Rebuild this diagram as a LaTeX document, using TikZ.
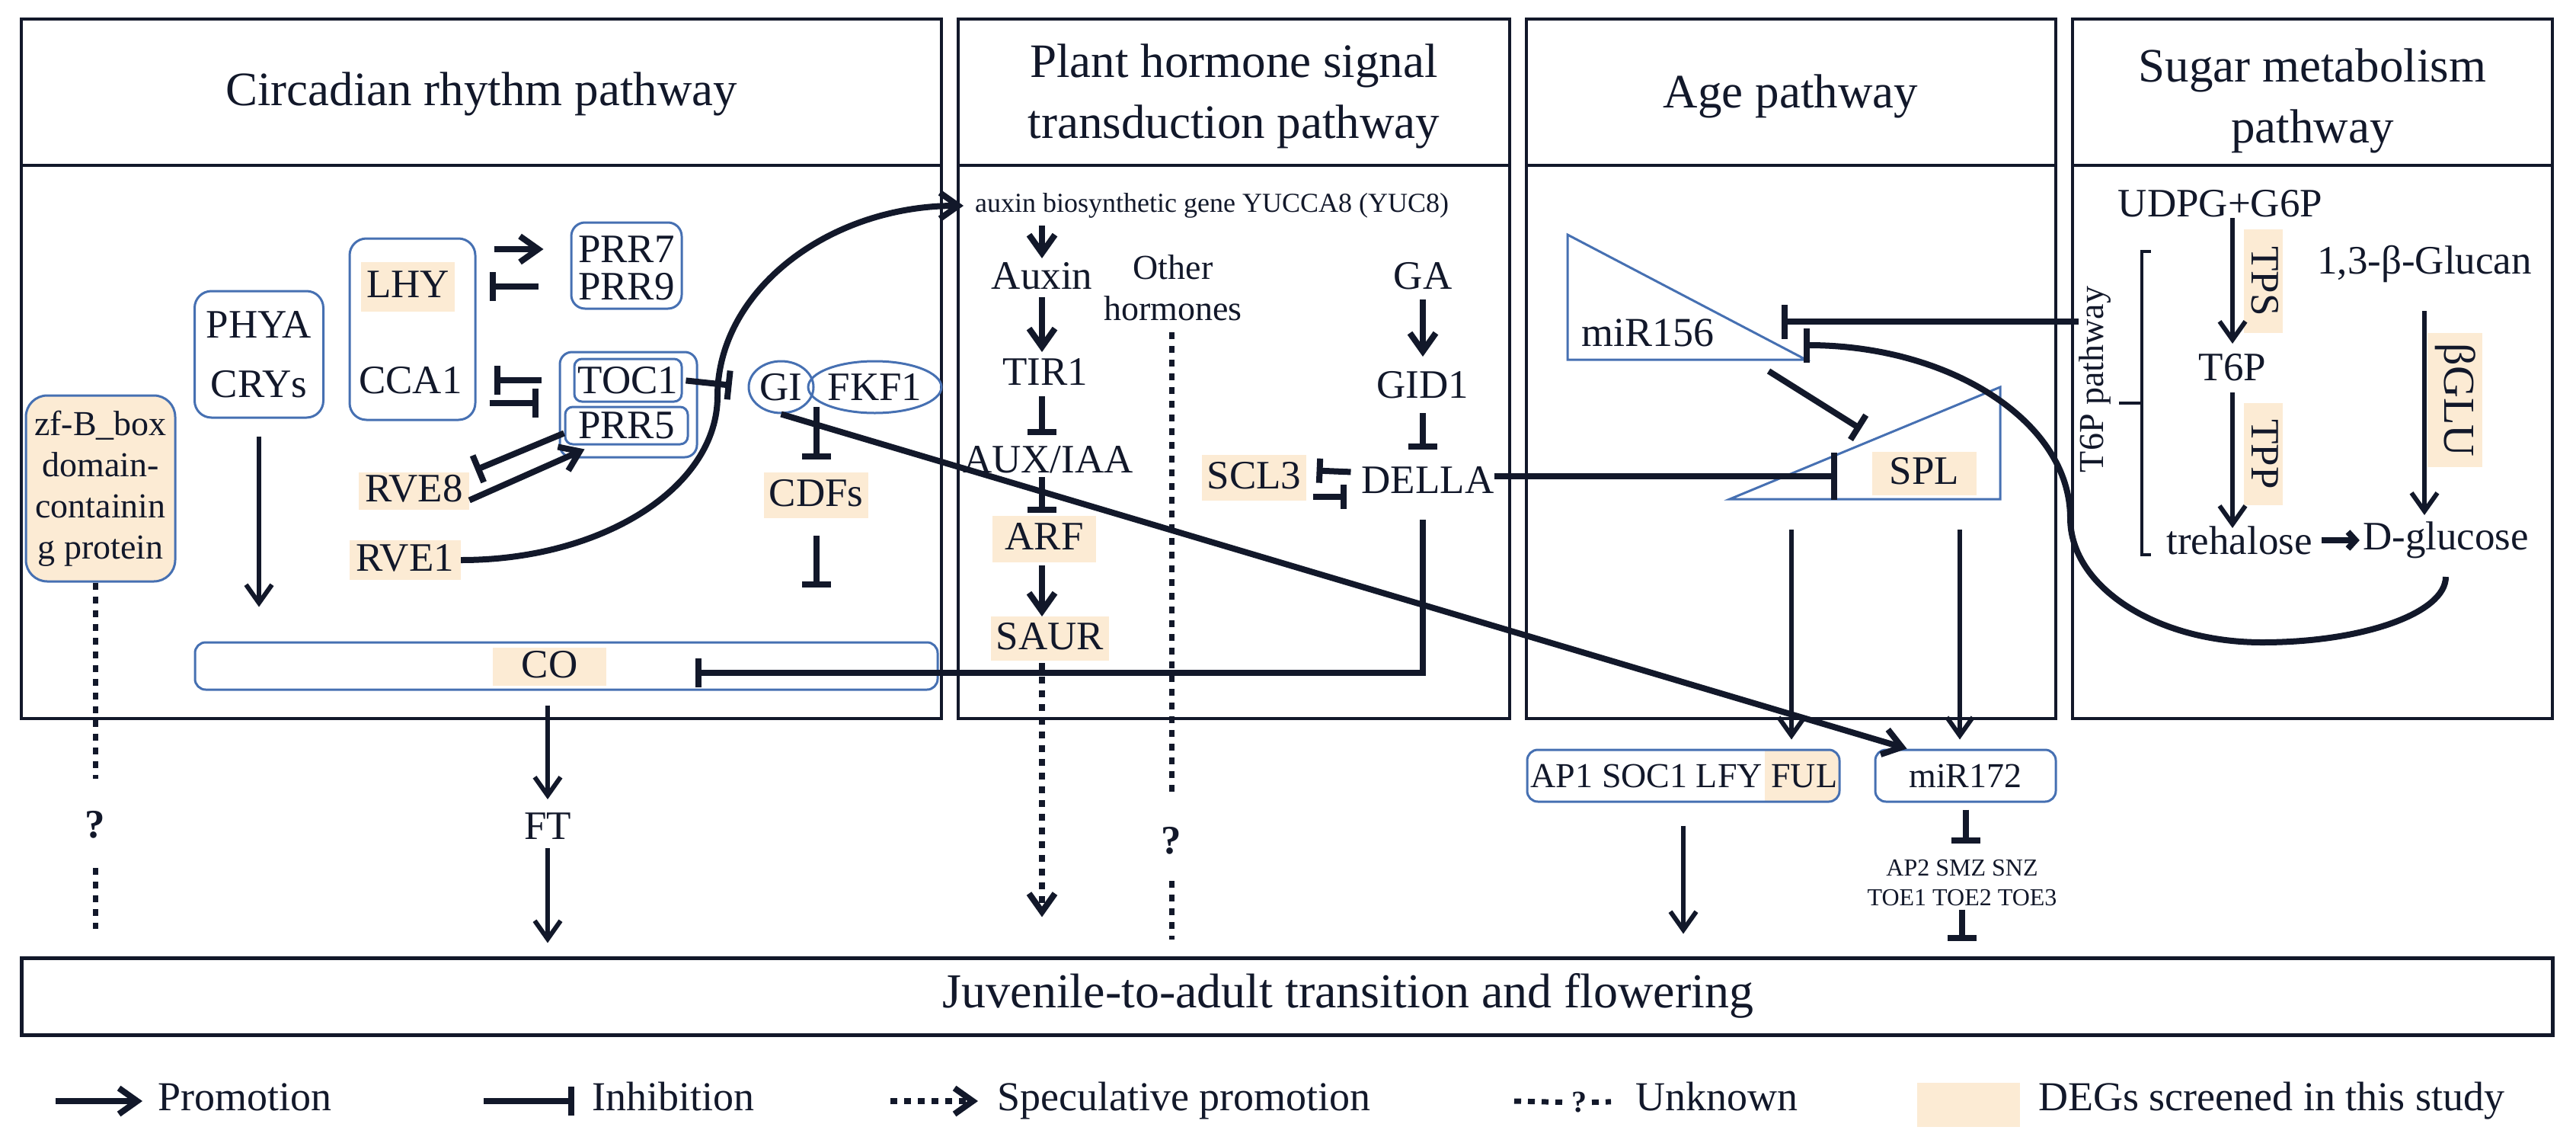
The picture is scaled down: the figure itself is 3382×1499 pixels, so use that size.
\documentclass[tikz,border=0pt]{standalone}
\usepackage{fontspec}
\setmainfont{Liberation Serif}
\usetikzlibrary{arrows.meta,
	shapes.geometric,
	positioning}
\definecolor{inkcol}{RGB}{18,24,42}
\definecolor{genecol}{RGB}{70,112,178}
\definecolor{degcol}{RGB}{252,235,212}
\newcommand\ttlfont{\fontsize{63pt}{80pt}\selectfont}
\newcommand\lblfont{\fontsize{53pt}{60pt}\selectfont}
\newcommand\midfont{\fontsize{46pt}{54pt}\selectfont}
\newcommand\smlfont{\fontsize{36pt}{42pt}\selectfont}
\newcommand\tnyfont{\fontsize{32pt}{39pt}\selectfont}

\begin{document}
\begin{tikzpicture}[x=1pt, y=-1pt,
	every node/.style={inner sep=0pt, text=inkcol, font=\lblfont},
	panel/.style={draw=inkcol, line width=4.5pt},
	gene/.style={draw=genecol, line width=3pt, rounded corners=22pt},
	deg/.style={fill=degcol, inner xsep=7pt, inner ysep=4pt, text height=34pt, text depth=6pt},
	prom/.style={draw=inkcol, line width=8pt, -{Straight Barb[length=24pt, width=34pt]}},
	thinarrow/.style={line width=6pt},
	smallprom/.style={draw=inkcol, line width=8pt, -{Straight Barb[length=10pt, width=22pt]}},
	inh/.style={draw=inkcol, line width=8pt, -{Bar[width=38pt]}},
	spec/.style={prom, dash pattern=on 9pt off 9pt},
	unk/.style={draw=inkcol, line width=7pt, dash pattern=on 9pt off 9pt},
	tri/.style={draw=genecol, line width=3pt},
	brk/.style={draw=inkcol, line width=3.5pt},
	legend/.style={anchor=west, font=\fontsize{54pt}{60pt}\selectfont, text height=36pt, text depth=11pt}]
	\useasboundingbox (0,0) rectangle (3382,1499);

	% panels
	\draw[panel] (28,25) rectangle (1236,943);
	\draw[panel] (28,217) -- (1236,217);
	\draw[panel] (1258,25) rectangle (1982,943);
	\draw[panel] (1258,217) -- (1982,217);
	\draw[panel] (2004,25) rectangle (2699,943);
	\draw[panel] (2004,217) -- (2699,217);
	\draw[panel] (2721,25) rectangle (3351,943);
	\draw[panel] (2721,217) -- (3351,217);
	\node[font=\ttlfont] (ttlcirc) at (632,123) {Circadian rhythm pathway};
	\node[font=\ttlfont, align=center] (ttlhorm) at (1620,126) {Plant hormone signal\\transduction pathway};
	\node[font=\ttlfont] (ttlage) at (2351,126) {Age pathway};
	\node[font=\ttlfont, align=center] (ttlsug) at (3036,132) {Sugar metabolism\\pathway};

	\node[draw=inkcol, line width=5pt, minimum width=3323pt, minimum height=101pt] (flower) at (1689.5,1307.5) {};
	\node[font=\fontsize{64pt}{70pt}\selectfont] (flowtxt) at (1770,1307) {Juvenile-to-adult transition and flowering};

	% circadian rhythm
	\node[gene, minimum width=169pt, minimum height=166pt, align=center, font=\fontsize{53pt}{78pt}\selectfont] (phya) at (340,465) {PHYA\\CRYs};
	\node[gene, minimum width=165pt, minimum height=238pt] (lhybox) at (541.5,432) {};
	\node[deg, minimum width=115pt, minimum height=65pt] (lhy) at (535.5,376.5) {LHY};
	\node (cca1) at (539,499) {CCA1};
	\node[gene, rounded corners=18pt, minimum width=145pt, minimum height=113pt] (prrbox) at (822.5,348.5) {};
	\node (prr7) at (822.5,327) {PRR7};
	\node (prr9) at (822.5,376) {PRR9};
	\node[gene, rounded corners=16pt, minimum width=180pt, minimum height=138pt] (tocbox) at (825,531) {};
	\node[gene, rounded corners=10pt, minimum width=141pt, minimum height=56pt] (toc1) at (824.5,499) {TOC1};
	\node[gene, rounded corners=10pt, minimum width=161pt, minimum height=49pt] (prr5) at (822.5,558.5) {PRR5};
	\node[gene, ellipse, minimum width=85pt, minimum height=68pt] (gi) at (1025.5,508) {GI};
	\node[gene, ellipse, minimum width=161pt, minimum height=68pt] (fkf1) at (1148.5,508) {FKF1};
	\node[deg, minimum width=145pt, minimum height=49pt] (rve8) at (543.5,644.5) {RVE8};
	\node[deg, minimum width=146pt, minimum height=52pt] (rve1) at (532,735) {RVE1};
	\node[deg, minimum width=137pt, minimum height=60pt] (cdfs) at (1071.5,650) {CDFs};
	\node[gene, fill=degcol, rounded corners=28pt, minimum width=196pt, minimum height=244pt, align=center, font=\fontsize{46pt}{54pt}\selectfont] (zfbox) at (132,641) {zf-B\_box\\domain-\\containin\\g protein};
	\node[gene, rounded corners=14pt, minimum width=975pt, minimum height=62pt] (cobox) at (743.5,874) {};
	\node[deg, minimum width=149pt, minimum height=50pt] (co) at (721.5,875) {CO};
	\node (ft) at (719,1084) {FT};
	\node[font=\bfseries\lblfont] (zfq) at (125,1082) {?};
	\coordinate (cobar) at (913,883);

	\draw[prom, shorten <=23pt, shorten >=35pt] (lhybox.east |- prr7) -- (prrbox.west |- prr7);
	\draw[inh, shorten <=42pt, shorten >=17pt] (prrbox.west |- prr9) -- (lhybox.east |- prr9);
	\draw[inh, shorten <=23pt, shorten >=23pt] (tocbox.west |- toc1) -- (lhybox.east |- toc1);
	\draw[inh, shorten <=17pt, shorten >=27pt] (lhybox.east |- toc1.south) -- (tocbox.west |- toc1.south);
	\draw[inh, shorten <=4pt, shorten >=21pt] (toc1.east) -- (gi.west);
	\draw[inh] ([yshift=-10pt]prr5.west) -- ([xshift=8pt,yshift=3pt]rve8.north east);
	\draw[prom] ([yshift=-12pt]rve8.east) -- ([xshift=27pt,yshift=-5pt]prr5.south west);
	\draw[inh, shorten <=26pt, shorten >=17pt] (cdfs.north |- gi.east) -- (cdfs.north);
	\draw[inh, shorten <=23pt, shorten >=71pt] (cdfs.south) -- (cdfs.south |- cobox.north);
	\draw[prom, thinarrow, shorten <=23pt, shorten >=45pt] (phya.south) -- (phya.south |- cobox.north);
	\draw[unk, shorten >=60pt] (zfbox.south -| zfq) -- (zfq.center);
	\draw[unk, shorten <=57pt, shorten >=36pt] (zfq.center) -- (zfq |- flower.north);
	\draw[prom, thinarrow, shorten <=19pt, shorten >=35pt] (ft |- cobox.south) -- (ft.center);
	\draw[prom, thinarrow, shorten <=29pt, shorten >=17pt] (ft.center) -- (ft |- flower.north);

	% plant hormone
	\node[font=\smlfont, anchor=west] (aux8) at (1280,270) {auxin biosynthetic gene YUCCA8 (YUC8)};
	\node (auxin) at (1368,362) {Auxin};
	\node (tir1) at (1372,488) {TIR1};
	\node (auxiaa) at (1376,603) {AUX/IAA};
	\node[deg, minimum width=136pt, minimum height=61pt] (arf) at (1371,707.5) {ARF};
	\node[deg, minimum width=151pt, minimum height=58pt] (saur) at (1378.5,838) {SAUR};
	\node[font=\midfont, align=center] (othhorm) at (1540,378) {Other\\hormones};
	\node[font=\bfseries\lblfont] (othq) at (1538,1103) {?};
	\node (ga) at (1868,362) {GA};
	\node (gid1) at (1868,505) {GID1};
	\node (della) at (1874.5,630) {DELLA};
	\node[deg, minimum width=137pt, minimum height=60pt] (scl3) at (1646.5,627) {SCL3};

	\draw[prom, shorten >=15pt] (rve1.east) .. controls (792,735) and (942,639) .. (942,520)
		.. controls (942,382) and (1087,270) .. (aux8.west);
	\draw[prom, shorten <=26pt, shorten >=23pt] (aux8 -| auxin) -- (auxin.center);
	\draw[prom, shorten <=28pt, shorten >=26pt] (auxin.center) -- (auxin |- tir1);
	\draw[inh, shorten <=32pt, shorten >=32pt] (auxin |- tir1) -- (auxin |- auxiaa);
	\draw[inh, shorten <=23pt, shorten >=35pt] (auxin |- auxiaa) -- (auxin |- arf);
	\draw[prom, shorten <=34pt, shorten >=29pt] (auxin |- arf) -- (auxin |- saur);
	\draw[spec, shorten <=32pt, shorten >=51pt] (auxin |- saur) -- (auxin |- flower.north);
	\draw[unk, shorten <=58pt, shorten >=57pt] (othhorm -| othq) -- (othq.center);
	\draw[unk, shorten <=53pt, shorten >=22pt] (othq.center) -- (othq |- flower.north);
	\draw[prom, shorten <=31pt, shorten >=37pt] (ga.center) -- (gid1.center);
	\draw[inh, shorten <=37pt, shorten >=40pt] (gid1.center) -- (gid1 |- della);
	\draw[inh, -{Bar[width=32pt]}, shorten <=14pt, shorten >=13pt] ([yshift=10pt]della.west) -- ([yshift=10pt]scl3.east);
	\draw[inh, -{Bar[width=32pt]}, shorten <=8pt, shorten >=19pt] ([yshift=-25pt]scl3.east) -- ([yshift=-22pt]della.west);
	\draw[inh, shorten <=52pt] (gid1 |- della) |- (cobar);

	% age
	\draw[tri] (2058,308) coordinate (m156tl) -- (2058,472) -- (2371,472) coordinate (m156br) -- cycle;
	\node[font=\fontsize{54pt}{60pt}\selectfont] (mir156) at (2163,437) {miR156};
	\draw[tri] (2271,655) coordinate (splbl) -- (2626,508) -- (2626,655) -- cycle;
	\node[deg, minimum width=137pt, minimum height=57pt] (spl) at (2526.5,621.5) {SPL};
	\coordinate (splbar) at (2412,625);
	\coordinate (t6pbar) at (2339,422);
	\coordinate (gbar) at (2368,453);
	\coordinate (splo1) at (2352,695);
	\coordinate (splo2) at (2573,695);
	\begin{scope}
		\clip[rounded corners=14pt] (2005,984) rectangle (2415,1052);
		\fill[degcol] (2317,984) rectangle (2415,1052);
	\end{scope}
	\node[gene, rounded corners=14pt, minimum width=410pt, minimum height=68pt] (apbox) at (2210,1018) {};
	\node[font=\midfont] (aptxt) at (2211,1018) {AP1 SOC1 LFY FUL};
	\node[gene, rounded corners=14pt, minimum width=237pt, minimum height=68pt, font=\midfont] (mir172box) at (2580.5,1018) {miR172};
	\node[font=\tnyfont, align=center] (ap2) at (2576,1158.5) {AP2 SMZ SNZ\\TOE1 TOE2 TOE3};

	\draw[inh, -{Bar[width=62pt]}] ([yshift=5pt]della.east) -- (splbar);
	\draw[inh] ([xshift=-49pt,yshift=-15pt]m156br) -- ([xshift=172pt,yshift=92pt]splbl);
	\draw[prom] (gi.south) -- ([xshift=43pt]mir172box.north west);
	\draw[prom, thinarrow, shorten >=12pt] (splo1) -- (splo1 |- apbox.north);
	\draw[prom, thinarrow, shorten >=12pt] (splo2) -- (splo2 |- mir172box.north);
	\draw[prom, thinarrow, shorten <=30pt, shorten >=29pt] (apbox.south) -- (apbox.south |- flower.north);
	\draw[inh, shorten <=9pt, shorten >=52pt] (mir172box.south) -- (mir172box.south |- ap2);
	\draw[inh, shorten <=35pt, shorten >=20pt] (ap2.center) -- (ap2 |- flower.north);

	% sugar metabolism
	\node (udpg) at (2915,267) {UDPG+G6P};
	\node (t6p) at (2931,482) {T6P};
	\node (treh) at (2940,709) {trehalose};
	\node (dglu) at (3211,709) {D-glucose};
	\node (glucan) at (3183,346) {1,3-β-Glucan};
	\node[deg, rotate=-90, minimum width=136pt, minimum height=51pt, text height=33pt, text depth=2pt] (tps) at (2971.5,369) {TPS};
	\node[deg, rotate=-90, minimum width=134pt, minimum height=51pt, text height=33pt, text depth=2pt] (tpp) at (2971.5,596) {TPP};
	\node[deg, rotate=-90, minimum width=176pt, minimum height=72pt, font=\fontsize{58pt}{64pt}\selectfont] (bglu) at (3223,525) {βGLU};
	\node[font=\midfont, rotate=90] (t6ptxt) at (2750,498) {T6P pathway};
	\draw[brk] (2824,330) -- (2812,330) -- (2812,728) -- (2824,728);
	\draw[brk] (2812,529) -- (2782,529);

	\draw[prom, thinarrow, shorten <=19pt, shorten >=31pt] (udpg -| t6p) -- (t6p.center);
	\draw[prom, thinarrow, shorten <=33pt, shorten >=16pt] (t6p.center) -- (t6p |- treh);
	\draw[smallprom, shorten <=12pt, shorten >=4pt] (treh.east) -- (dglu.west);
	\draw[prom, thinarrow, shorten <=62pt, shorten >=33pt] (glucan.center) -- (glucan |- dglu);
	\draw[inh, -{Bar[width=45pt]}] (t6ptxt.north |- t6pbar) -- (t6pbar);
	\draw[inh, -{Bar[width=45pt]}] ([yshift=-48pt]dglu.center) .. controls (3211,804) and (3104,843) .. (2970,843)
		.. controls (2831,843) and (2718,770) .. (2718,680)
		.. controls (2718,554) and (2561,453) .. (gbar);

	% legend
	\coordinate (lgpstart) at (73,1445);
	\coordinate (lgistart) at (635,1445);
	\coordinate (lgsstart) at (1169,1445);
	\coordinate (lgustart) at (1988,1445);
	\node[legend] (lgprom) at (207,1445) {Promotion};
	\node[legend] (lginh) at (777,1445) {Inhibition};
	\node[legend] (lgspec) at (1309,1445) {Speculative promotion};
	\node[font=\bfseries\fontsize{40pt}{44pt}\selectfont] (lgq) at (2073,1447) {?};
	\node[legend] (lgunk) at (2147,1445) {Unknown};
	\node[fill=degcol, minimum width=135pt, minimum height=58pt] (lgdeg) at (2584.5,1450) {};
	\node[legend] (lgdegtxt) at (2676,1445) {DEGs screened in this study};
	\draw[prom, shorten >=20pt] (lgpstart) -- (lgprom.west);
	\draw[inh, shorten >=23pt] (lgistart) -- (lginh.west);
	\draw[spec, shorten >=25pt] (lgsstart) -- (lgspec.west);
	\draw[unk, shorten >=21pt] (lgustart) -- (lgq.center);
	\draw[unk, shorten <=17pt, shorten >=32pt] (lgq.center) -- (lgunk.west);
\end{tikzpicture}
\end{document}
